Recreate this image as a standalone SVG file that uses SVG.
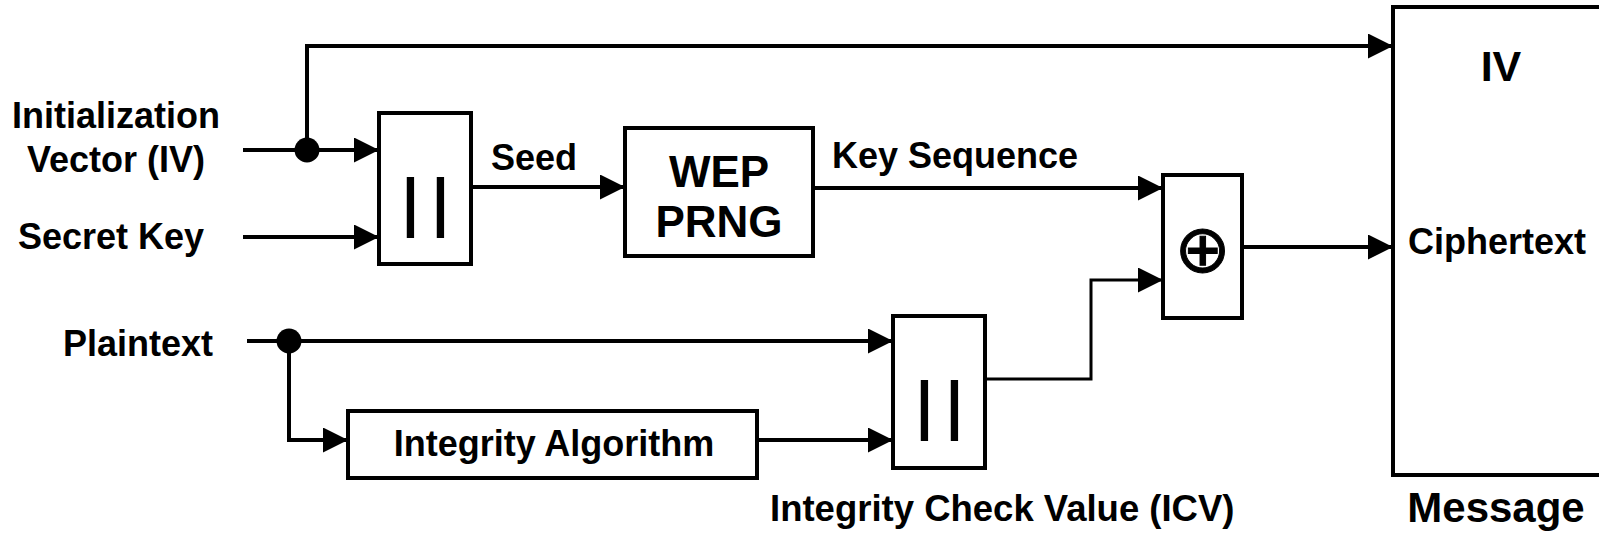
<svg xmlns="http://www.w3.org/2000/svg" width="1599" height="535" viewBox="0 0 1599 535">
<style>
.box{fill:#fff;stroke:#000;stroke-width:4}
.t{font-family:"Liberation Sans",Arial,sans-serif;font-weight:bold;font-size:36px;fill:#000}
.tm{text-anchor:middle}
.big{font-size:44px}
.bar{font-family:"Liberation Sans",Arial,sans-serif;font-weight:normal;font-size:63px;fill:#000;stroke:#000;stroke-width:2.2;text-anchor:middle}
.xor{font-family:"DejaVu Sans",sans-serif;font-weight:normal;font-size:67px;fill:#000;stroke:#000;stroke-width:1;text-anchor:middle}
.ln{fill:none;stroke:#000;stroke-width:4;stroke-linejoin:miter}
.thin{stroke-width:3}
</style>
<defs>
<marker id="arr" markerUnits="userSpaceOnUse" markerWidth="26" markerHeight="26" refX="25" refY="12.5" orient="auto" viewBox="0 0 26 26">
<path d="M0,0 L25,12.5 L0,25 Z" fill="#000"/>
</marker>
</defs>

<g id="label-iv">
<text class="t tm" x="116" y="128">Initialization</text>
<text class="t tm" x="116" y="172">Vector (IV)</text>
</g>
<g id="label-secret-key"><text class="t tm" x="111" y="249">Secret Key</text></g>
<g id="label-plaintext"><text class="t tm" x="138" y="356">Plaintext</text></g>

<g id="concat1">
<rect class="box" x="379" y="113" width="92" height="151"/>
<text class="bar" x="410.5 440.5" y="224">||</text>
</g>

<g id="wep-prng">
<rect class="box" x="625" y="128" width="188" height="128"/>
<text class="t tm big" x="719" y="187">WEP</text>
<text class="t tm big" x="719" y="237">PRNG</text>
</g>

<g id="xor">
<rect class="box" x="1163" y="175" width="79" height="143"/>
<text class="xor" x="1202.5" y="271.5">⊕</text>
</g>

<g id="integrity-algorithm">
<rect class="box" x="348" y="411" width="409" height="67"/>
<text class="t tm" x="554" y="456">Integrity Algorithm</text>
</g>

<g id="concat2">
<rect class="box" x="893" y="316" width="92" height="152"/>
<text class="bar" x="924.5 954.5" y="427">||</text>
</g>

<g id="message">
<rect class="box" x="1393" y="7" width="230" height="468"/>
<text class="t tm" x="1501" y="81" style="font-size:43px">IV</text>
<text class="t tm" x="1497" y="254">Ciphertext</text>
<text class="t tm" x="1496" y="522" style="font-size:42px">Message</text>
</g>

<g id="labels">
<text class="t tm" x="534" y="170">Seed</text>
<text class="t tm" x="955" y="168">Key Sequence</text>
<text class="t" x="770" y="521" style="font-size:36.5px">Integrity Check Value (ICV)</text>
</g>

<g id="connectors">
<path class="ln" d="M243,150 H379" marker-end="url(#arr)"/>
<path class="ln" d="M307,150 V46 H1393" marker-end="url(#arr)"/>
<path class="ln" d="M243,237 H379" marker-end="url(#arr)"/>
<path class="ln" d="M471,187 H625" marker-end="url(#arr)"/>
<path class="ln" d="M813,188 H1163" marker-end="url(#arr)"/>
<path class="ln" d="M247,341 H893" marker-end="url(#arr)"/>
<path class="ln" d="M289,341 V440 H348" marker-end="url(#arr)"/>
<path class="ln" d="M757,440 H893" marker-end="url(#arr)"/>
<path class="ln thin" d="M985,379 H1091 V280 H1163" marker-end="url(#arr)"/>
<path class="ln" d="M1242,247 H1393" marker-end="url(#arr)"/>
<circle cx="307" cy="150" r="12.5" fill="#000"/>
<circle cx="289" cy="341" r="12.5" fill="#000"/>
</g>
</svg>
